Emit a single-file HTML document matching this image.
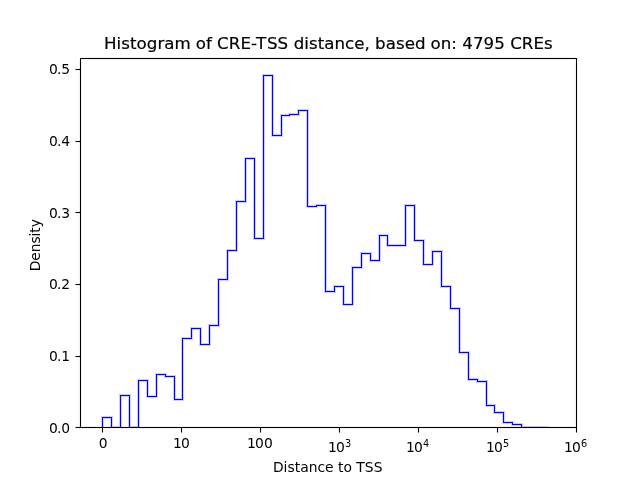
<!DOCTYPE html>
<html lang="en"><head><meta charset="utf-8"><title>Histogram of CRE-TSS distance</title>
<style>html,body{margin:0;padding:0;background:#fff;overflow:hidden}svg{display:block}text{font-family:"DejaVu Sans","Liberation Sans",sans-serif;fill:#000}.t{font-size:13.889px}.h{font-size:16.667px}.s{font-size:9.722px}</style></head><body>
<svg width="640" height="480" viewBox="0 0 640 480">
<rect width="640" height="480" fill="#fff"/>
<clipPath id="ax"><rect x="80" y="57.6" width="496" height="369.6"/></clipPath>
<g fill="none" stroke="#0000ff" stroke-linejoin="miter" clip-path="url(#ax)"><path d="M102.5 427.5 L102.5 417.5 L111.5 417.5 L111.5 427.5 L120.5 427.5 L120.5 395.5 L129.5 395.5 L129.5 427.5 L138.5 427.5 L138.5 380.5 L147.5 380.5 L147.5 396.5 L156.5 396.5 L156.5 374.5 L165.5 374.5 L165.5 376.5 L174.5 376.5 L174.5 399.5 L182.5 399.5 L182.5 338.5 L191.5 338.5 L191.5 328.5 L200.5 328.5 L200.5 344.5 L209.5 344.5 L209.5 325.5 L218.5 325.5 L218.5 279.5 L227.5 279.5 L227.5 250.5 L236.5 250.5 L236.5 201.5 L245.5 201.5 L245.5 158.5 L254.5 158.5 L254.5 238.5 L263.5 238.5 L263.5 75.5 L272.5 75.5 L272.5 135.5 L281.5 135.5 L281.5 115.5 L289.5 115.5 L289.5 114.5 L298.5 114.5 L298.5 110.5 L307.5 110.5 L307.5 206.5 L316.5 206.5 L316.5 205.5 L325.5 205.5 L325.5 291.5 L334.5 291.5 L334.5 286.5 L343.5 286.5 L343.5 304.5 L352.5 304.5 L352.5 267.5 L361.5 267.5 L361.5 253.5 L370.5 253.5 L370.5 260.5 L379.5 260.5 L379.5 235.5 L387.5 235.5 L387.5 245.5 L405.5 245.5 L405.5 205.5 L414.5 205.5 L414.5 240.5 L423.5 240.5 L423.5 264.5 L432.5 264.5 L432.5 251.5 L441.5 251.5 L441.5 286.5 L450.5 286.5 L450.5 308.5 L459.5 308.5 L459.5 352.5 L468.5 352.5 L468.5 379.5 L477.5 379.5 L477.5 381.5 L486.5 381.5 L486.5 405.5 L494.5 405.5 L494.5 412.5 L503.5 412.5 L503.5 422.5 L512.5 422.5 L512.5 424.5 L521.5 424.5 L521.5 427.5 L548.5 427.5" stroke-width="3" stroke-opacity="0.195"/><path d="M102.5 427.5L102.5 417.5M102.5 417.5L111.5 417.5M111.5 417.5L111.5 427.5M111.5 427.5L120.5 427.5M120.5 427.5L120.5 395.5M120.5 395.5L129.5 395.5M129.5 395.5L129.5 427.5M129.5 427.5L138.5 427.5M138.5 427.5L138.5 380.5M138.5 380.5L147.5 380.5M147.5 380.5L147.5 396.5M147.5 396.5L156.5 396.5M156.5 396.5L156.5 374.5M156.5 374.5L165.5 374.5M165.5 374.5L165.5 376.5M165.5 376.5L174.5 376.5M174.5 376.5L174.5 399.5M174.5 399.5L182.5 399.5M182.5 399.5L182.5 338.5M182.5 338.5L191.5 338.5M191.5 338.5L191.5 328.5M191.5 328.5L200.5 328.5M200.5 328.5L200.5 344.5M200.5 344.5L209.5 344.5M209.5 344.5L209.5 325.5M209.5 325.5L218.5 325.5M218.5 325.5L218.5 279.5M218.5 279.5L227.5 279.5M227.5 279.5L227.5 250.5M227.5 250.5L236.5 250.5M236.5 250.5L236.5 201.5M236.5 201.5L245.5 201.5M245.5 201.5L245.5 158.5M245.5 158.5L254.5 158.5M254.5 158.5L254.5 238.5M254.5 238.5L263.5 238.5M263.5 238.5L263.5 75.5M263.5 75.5L272.5 75.5M272.5 75.5L272.5 135.5M272.5 135.5L281.5 135.5M281.5 135.5L281.5 115.5M281.5 115.5L289.5 115.5M289.5 115.5L289.5 114.5M289.5 114.5L298.5 114.5M298.5 114.5L298.5 110.5M298.5 110.5L307.5 110.5M307.5 110.5L307.5 206.5M307.5 206.5L316.5 206.5M316.5 206.5L316.5 205.5M316.5 205.5L325.5 205.5M325.5 205.5L325.5 291.5M325.5 291.5L334.5 291.5M334.5 291.5L334.5 286.5M334.5 286.5L343.5 286.5M343.5 286.5L343.5 304.5M343.5 304.5L352.5 304.5M352.5 304.5L352.5 267.5M352.5 267.5L361.5 267.5M361.5 267.5L361.5 253.5M361.5 253.5L370.5 253.5M370.5 253.5L370.5 260.5M370.5 260.5L379.5 260.5M379.5 260.5L379.5 235.5M379.5 235.5L387.5 235.5M387.5 235.5L387.5 245.5M387.5 245.5L405.5 245.5M405.5 245.5L405.5 205.5M405.5 205.5L414.5 205.5M414.5 205.5L414.5 240.5M414.5 240.5L423.5 240.5M423.5 240.5L423.5 264.5M423.5 264.5L432.5 264.5M432.5 264.5L432.5 251.5M432.5 251.5L441.5 251.5M441.5 251.5L441.5 286.5M441.5 286.5L450.5 286.5M450.5 286.5L450.5 308.5M450.5 308.5L459.5 308.5M459.5 308.5L459.5 352.5M459.5 352.5L468.5 352.5M468.5 352.5L468.5 379.5M468.5 379.5L477.5 379.5M477.5 379.5L477.5 381.5M477.5 381.5L486.5 381.5M486.5 381.5L486.5 405.5M486.5 405.5L494.5 405.5M494.5 405.5L494.5 412.5M494.5 412.5L503.5 412.5M503.5 412.5L503.5 422.5M503.5 422.5L512.5 422.5M512.5 422.5L512.5 424.5M512.5 424.5L521.5 424.5M521.5 424.5L521.5 427.5M521.5 427.5L548.5 427.5" stroke-width="1" stroke-linecap="square"/></g>
<g fill="none" stroke="#000"><path d="M102.5 427.5V432.5M181.5 427.5V432.5M260.5 427.5V432.5M339.5 427.5V432.5M418.5 427.5V432.5M497.5 427.5V432.5M576.5 427.5V432.5M80.5 427.5H75.5M80.5 356.5H75.5M80.5 284.5H75.5M80.5 212.5H75.5M80.5 141.5H75.5M80.5 69.5H75.5" stroke-width="3" stroke-opacity="0.055"/><path d="M102.5 427.5V432.5M181.5 427.5V432.5M260.5 427.5V432.5M339.5 427.5V432.5M418.5 427.5V432.5M497.5 427.5V432.5M576.5 427.5V432.5M80.5 427.5H75.5M80.5 356.5H75.5M80.5 284.5H75.5M80.5 212.5H75.5M80.5 141.5H75.5M80.5 69.5H75.5" stroke-width="1"/></g>
<g fill="none" stroke="#000" stroke-linecap="square"><path d="M80.5 427.5V58.5M80.5 58.5H576.5M576.5 58.5V427.5M576.5 427.5H80.5" stroke-width="3" stroke-opacity="0.055" stroke-linecap="butt"/><path d="M80.5 427.5V58.5M80.5 58.5H576.5M576.5 58.5V427.5M576.5 427.5H80.5" stroke-width="1"/></g>
<text class="t" x="98.86" y="448.34">0</text>
<text class="t" x="173 181" y="448.16">10</text>
<text class="t" x="247 255 264" y="448.23">100</text>
<text class="t" x="328.08 336.08" y="452.05">10<tspan class="s" x="345.03" dy="-5.3">3</tspan></text>
<text class="t" x="405.99 413.99" y="452.12">10<tspan class="s" x="422.94" dy="-5.3">4</tspan></text>
<text class="t" x="486.12 494.12" y="452.08">10<tspan class="s" x="503.07" dy="-5.3">5</tspan></text>
<text class="t" x="564.07 572.07" y="452.2">10<tspan class="s" x="581.02" dy="-5.3">6</tspan></text>
<text class="t" x="49.05 56.95 61.35" y="432.65">0.0</text>
<text class="t" x="49.05 56.95 61.35" y="361.48">0.1</text>
<text class="t" x="49.05 56.95 61.35" y="289.48">0.2</text>
<text class="t" x="49.05 56.95 61.35" y="218.44">0.3</text>
<text class="t" x="49.05 56.95 61.35" y="146.38">0.4</text>
<text class="t" x="49.05 56.95 61.35" y="73.65">0.5</text>
<text class="t" x="327.71" y="472.19" text-anchor="middle">Distance to TSS</text>
<text class="t" transform="translate(40.04 245.24) rotate(-90)" text-anchor="middle" letter-spacing="-0.12">Density</text>
<text class="h" y="49.27" letter-spacing="0.047" stroke="#000" stroke-width="0.2" xml:space="preserve"><tspan x="104.06">Histogram </tspan><tspan x="195.82">of </tspan><tspan x="217.12">CRE-</tspan><tspan x="256.01">T</tspan><tspan x="266.9">SS </tspan><tspan x="293.65">distance, </tspan><tspan x="375.04">based </tspan><tspan x="430.4">on: </tspan><tspan x="462.25">4795 </tspan><tspan x="510.15">CREs</tspan></text>
</svg></body></html>
